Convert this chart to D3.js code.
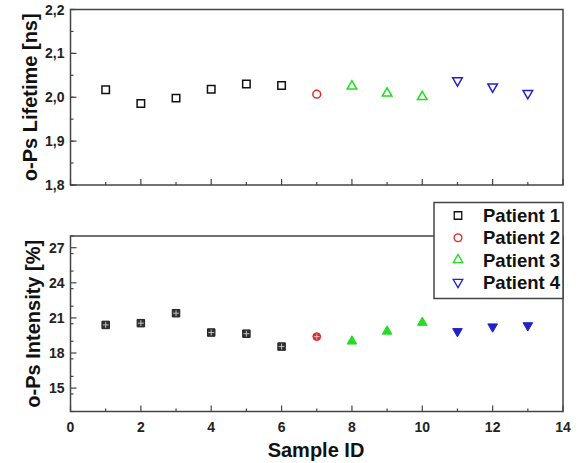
<!DOCTYPE html>
<html>
<head>
<meta charset="utf-8">
<script src="https://cdn.jsdelivr.net/npm/d3@7"></script>
<style>
  body { margin: 0; background: #fff; }
  text { font-family: "Liberation Sans", Arial, sans-serif; font-weight: bold; }
  .tick-label { font-size: 14px; fill: #222; }
  .axis-title { font-size: 20px; fill: #111; }
  .legend-text { font-size: 18.5px; fill: #111; }
</style>
</head>
<body>
<div id="container"></div>
<script>
const w = 583;
const h = 463;

// data
const sampleIds = [1, 2, 3, 4, 5, 6, 7, 8, 9, 10, 11, 12, 13];
const patientOf = [1, 1, 1, 1, 1, 1, 2, 3, 3, 3, 4, 4, 4];
const lifetime = [2.017, 1.986, 1.998, 2.018, 2.030, 2.027, 2.007, 2.025, 2.009, 2.001, 2.038, 2.024, 2.009];
const intensity = [20.4, 20.55, 21.4, 19.75, 19.65, 18.55, 19.4, 19.0, 19.85, 20.6, 19.85, 20.25, 20.35];
const patientNames = ['Patient 1', 'Patient 2', 'Patient 3', 'Patient 4'];
const xTicks = [0, 2, 4, 6, 8, 10, 12, 14];
const lifetimeTicks = [1.8, 1.9, 2.0, 2.1, 2.2];
const intensityTicks = [15, 18, 21, 24, 27];

const colors = ['#111111', '#e02828', '#22dd22', '#2222cc'];
const shapes = [d3.symbolSquare, d3.symbolCircle, d3.symbolTriangle, d3.symbolTriangle];
const sizes = [56, 48, 40, 40];
const commaFmt = d => d3.format('.1f')(d).replace('.', ',');

const svg = d3.select('#container')
              .append('svg')
              .attr('width', w)
              .attr('height', h);

const xScale = d3.scaleLinear().domain([0, 14]).range([70.5, 563]);
const yTop = d3.scaleLinear().domain([1.8, 2.2]).range([185, 9.5]);
const yBottom = d3.scaleLinear().domain([13, 28]).range([411.5, 236]);

const points = sampleIds.map((id, i) => ({
  id: id,
  p: patientOf[i] - 1,
  life: lifetime[i],
  inten: intensity[i]
}));

function symbolPath(p) {
  return d3.symbol().type(shapes[p]).size(sizes[p])();
}

function markerTransform(x, y, p) {
  // patient 4 uses a down-pointing triangle
  return p === 3 ? `translate(${x},${y}) rotate(180)` : `translate(${x},${y})`;
}

function drawPanel(yScale, yTicks, minorStep, fmt, title, titleX) {
  const [y0, y1] = yScale.range();
  const x0 = xScale.range()[0];
  const x1 = xScale.range()[1];
  const g = svg.append('g');

  // minor + major ticks, pointing inward
  const xMinor = d3.range(1, 14, 2);
  g.selectAll('.xmin').data(xMinor).enter().append('line')
   .attr('x1', d => xScale(d)).attr('x2', d => xScale(d))
   .attr('y1', y0).attr('y2', y0 - 3)
   .attr('stroke', '#444').attr('stroke-width', 1.2);
  g.selectAll('.xmaj').data(xTicks).enter().append('line')
   .attr('x1', d => xScale(d)).attr('x2', d => xScale(d))
   .attr('y1', y0).attr('y2', y0 - 6)
   .attr('stroke', '#444').attr('stroke-width', 1.2);

  const d0 = yScale.domain()[0];
  const d1 = yScale.domain()[1];
  const yMinor = d3.range(0, Math.round((d1 - d0) / minorStep) + 1).map(k => d0 + k * minorStep);
  g.selectAll('.ymin').data(yMinor).enter().append('line')
   .attr('x1', x0).attr('x2', x0 + 3)
   .attr('y1', d => yScale(d)).attr('y2', d => yScale(d))
   .attr('stroke', '#444').attr('stroke-width', 1.2);
  g.selectAll('.ymaj').data(yTicks).enter().append('line')
   .attr('x1', x0).attr('x2', x0 + 6)
   .attr('y1', d => yScale(d)).attr('y2', d => yScale(d))
   .attr('stroke', '#444').attr('stroke-width', 1.2);

  g.selectAll('.ylab').data(yTicks).enter().append('text')
   .attr('class', 'tick-label')
   .attr('x', x0 - 6)
   .attr('y', d => yScale(d))
   .attr('dy', '0.36em')
   .attr('text-anchor', 'end')
   .text(fmt);

  // frame
  g.append('rect')
   .attr('x', x0).attr('y', y1)
   .attr('width', x1 - x0).attr('height', y0 - y1)
   .attr('fill', 'none').attr('stroke', '#444').attr('stroke-width', 1.5);

  svg.append('text')
     .attr('class', 'axis-title')
     .attr('transform', `translate(${titleX},${(y0 + y1) / 2}) rotate(-90)`)
     .attr('text-anchor', 'middle')
     .text(title);
  return g;
}

// top panel
drawPanel(yTop, lifetimeTicks, 0.05, commaFmt, 'o-Ps Lifetime [ns]', 36.5);

svg.append('g').selectAll('path')
   .data(points)
   .enter()
   .append('path')
   .attr('d', d => symbolPath(d.p))
   .attr('transform', d => markerTransform(xScale(d.id), yTop(d.life), d.p))
   .attr('fill', 'none')
   .attr('stroke', d => colors[d.p])
   .attr('stroke-width', 1.5);

// bottom panel
const bottom = drawPanel(yBottom, intensityTicks, 1.5, d => d, 'o-Ps Intensity [%]', 40);

bottom.selectAll('.xlab').data(xTicks).enter().append('text')
      .attr('class', 'tick-label')
      .attr('x', d => xScale(d))
      .attr('y', 432)
      .attr('text-anchor', 'middle')
      .text(d => d);

svg.append('text')
   .attr('class', 'axis-title')
   .attr('x', 316)
   .attr('y', 457)
   .attr('text-anchor', 'middle')
   .text('Sample ID');

const filled = svg.append('g').selectAll('g')
   .data(points)
   .enter()
   .append('g')
   .attr('transform', d => markerTransform(xScale(d.id), yBottom(d.inten), d.p));

filled.append('path')
      .attr('d', d => symbolPath(d.p))
      .attr('fill', d => d.p === 0 ? '#333' : colors[d.p])
      .attr('stroke', d => d.p === 0 ? '#222' : colors[d.p])
      .attr('stroke-width', 1);

// light cross inside squares and circles
filled.filter(d => d.p < 2)
      .append('path')
      .attr('d', 'M-3,0H3M0,-3V3')
      .attr('stroke', '#ddd')
      .attr('stroke-width', 0.8);

// legend
const legend = svg.append('g').attr('id', 'legend');
legend.append('rect')
      .attr('x', 434).attr('y', 202.5)
      .attr('width', 129).attr('height', 96)
      .attr('fill', '#fff').attr('stroke', '#444').attr('stroke-width', 1.5);

const rows = legend.selectAll('.legend-row')
                   .data(patientNames)
                   .enter()
                   .append('g')
                   .attr('transform', (d, i) => `translate(0, ${215.5 + i * 22.2})`);

rows.append('path')
    .attr('d', (d, i) => symbolPath(i))
    .attr('transform', (d, i) => i === 3 ? 'translate(458,0) rotate(180)' : 'translate(458,0)')
    .attr('fill', 'none')
    .attr('stroke', (d, i) => colors[i])
    .attr('stroke-width', 1.3);

rows.append('text')
    .attr('class', 'legend-text')
    .attr('x', 483)
    .attr('y', 0)
    .attr('dy', '0.36em')
    .text(d => d);
</script>
</body>
</html>
